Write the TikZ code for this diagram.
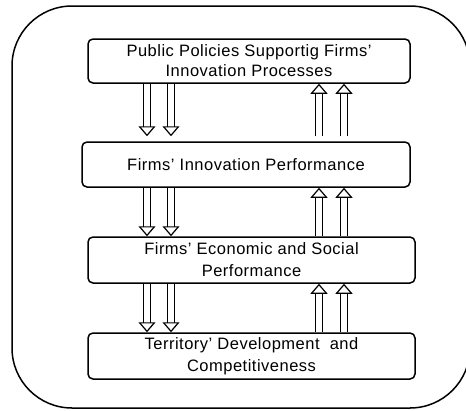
\documentclass[tikz,border=0pt]{standalone}
\usepackage{fontspec}
\setmainfont{Liberation Sans}[LetterSpace=3]
\usetikzlibrary{positioning,arrows.meta}

\begin{document}
\begin{tikzpicture}[x=1pt, y=-1pt,
    levelbox/.style={rectangle, rounded corners=5pt, draw, line width=1.5pt, inner sep=0pt, align=center},
    downarrow/.style={draw, line width=1.2pt, double=white, double distance=5.5pt, -{Triangle[open, length=10pt, width=17pt]}},
    uparrow/.style={downarrow}
]
    \useasboundingbox (0,0) rectangle (466,410);
    \clip (0,0) rectangle (466,410);

    % Frame
    \draw[line width=1.5pt, rounded corners=60pt] (12,6) rectangle (470,408);

    % Levels
    \node[levelbox, minimum width=322pt, minimum height=44pt, font=\fontsize{16.5}{20}\selectfont] (pol) at (249,61)
        {Public Policies Supportig Firms’\\Innovation Processes};
    \node[levelbox, minimum width=328pt, minimum height=45pt, font=\fontsize{16.5}{22}\selectfont] (inn) at (246,164.5)
        {Firms’ Innovation Performance};
    \node[levelbox, minimum width=327pt, minimum height=46pt, font=\fontsize{16.5}{22}\selectfont] (eco) at (251.5,260)
        {Firms’ Economic and Social\\Performance};
    \node[levelbox, minimum width=327pt, minimum height=46pt, font=\fontsize{16.5}{22}\selectfont] (ter) at (251.5,356)
        {Territory’ Development~ and\\Competitiveness};

    % Arrow columns
    \coordinate (d1) at (147,0);
    \coordinate (d2) at (171,0);
    \coordinate (u1) at (319,0);
    \coordinate (u2) at (344,0);

    % Arrows down
    \draw[downarrow, shorten >=5pt] (pol.south -| d1) -- (inn.north -| d1);
    \draw[downarrow, shorten >=5pt] (pol.south -| d2) -- (inn.north -| d2);
    \draw[downarrow] (inn.south -| d1) -- (eco.north -| d1);
    \draw[downarrow] (inn.south -| d2) -- (eco.north -| d2);
    \draw[downarrow] (eco.south -| d1) -- (ter.north -| d1);
    \draw[downarrow] (eco.south -| d2) -- (ter.north -| d2);

    % Arrows up
    \draw[uparrow, shorten <=5pt] (inn.north -| u1) -- (pol.south -| u1);
    \draw[uparrow, shorten <=5pt] (inn.north -| u2) -- (pol.south -| u2);
    \draw[uparrow] (eco.north -| u1) -- (inn.south -| u1);
    \draw[uparrow] (eco.north -| u2) -- (inn.south -| u2);
    \draw[uparrow] (ter.north -| u1) -- (eco.south -| u1);
    \draw[uparrow] (ter.north -| u2) -- (eco.south -| u2);

\end{tikzpicture}
\end{document}
